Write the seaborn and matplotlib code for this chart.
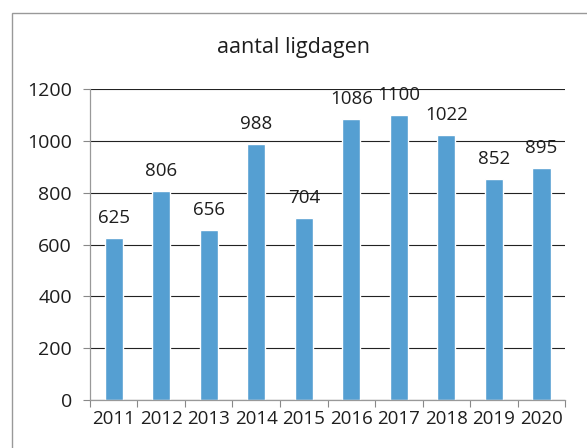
import matplotlib
matplotlib.use("Agg")
import matplotlib.pyplot as plt
import matplotlib.patches as mpatches
import pandas as pd
import seaborn as sns

years = ["2011", "2012", "2013", "2014", "2015", "2016", "2017", "2018", "2019", "2020"]
ligdagen = [625, 806, 656, 988, 704, 1086, 1100, 1022, 852, 895]
yticks = [0, 200, 400, 600, 800, 1000, 1200]

BAR = "#559fd2"
TEXT = "#1e1e1e"

sns.set_style("white")
plt.rcParams["font.family"] = ["Open Sans", "DejaVu Sans"]

df = pd.DataFrame({"jaar": years, "ligdagen": ligdagen})

fig = plt.figure(figsize=(5.87, 4.48), dpi=100)
ax = fig.add_axes([0.153, 0.107, 0.81, 0.694])

sns.barplot(data=df, x="jaar", y="ligdagen", color=BAR, saturation=1,
            width=0.38, ax=ax)

for i, v in enumerate(ligdagen):
    ax.annotate(str(v), (i, v), xytext=(0, 8), textcoords="offset points",
                ha="center", va="bottom", fontsize=13.5, color=TEXT)

ax.set_ylim(0, 1200)
ax.set_xlim(-0.5, len(years) - 0.5)
ax.set_yticks(yticks)
ax.yaxis.grid(True, color="#222222", linewidth=0.8)
ax.set_axisbelow(True)
ax.set_xlabel("")
ax.set_ylabel("")
ax.tick_params(axis="y", labelsize=14, colors=TEXT, length=5, width=0.8,
               direction="out", left=True, color="#888888", pad=8)
ax.tick_params(axis="x", labelsize=13.5, colors=TEXT, length=0, pad=7)
# category boundary ticks on the x axis
ax.set_xticks([i - 0.5 for i in range(len(years) + 1)], minor=True)
ax.tick_params(axis="x", which="minor", length=5, width=0.8, color="#888888",
               direction="out", bottom=True)

for s in ["top", "right"]:
    ax.spines[s].set_visible(False)
for s in ["left", "bottom"]:
    ax.spines[s].set_color("#999999")
    ax.spines[s].set_linewidth(0.9)

fig.text(0.5, 0.895, "aantal ligdagen", ha="center", va="center",
         fontsize=15.5, color=TEXT)

# outer chart frame
frame = mpatches.Rectangle((12 / 587, -0.05), 1.0, 1 - 13 / 448 + 0.05,
                           transform=fig.transFigure, fill=False,
                           edgecolor="#999999", linewidth=1.0)
fig.patches.append(frame)

fig.savefig("out.png", dpi=100)
